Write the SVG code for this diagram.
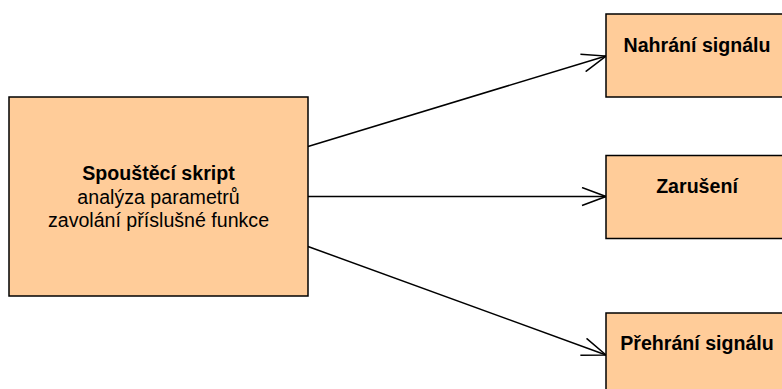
<svg xmlns="http://www.w3.org/2000/svg" width="782" height="389" viewBox="0 0 782 389">
  <style>
    .box { fill: #ffcc99; stroke: #000; stroke-width: 1.5; }
    .t { font-family: "Liberation Sans", Arial, Helvetica, sans-serif; font-size: 19.6px; fill: #000; text-anchor: middle; }
    .b { font-weight: bold; }
    .edge { fill: none; stroke: #000; stroke-width: 1.5; }
  </style>
  <defs>
    <marker id="open-arrow" viewBox="0 0 26 20" refX="25" refY="10" markerWidth="26" markerHeight="20" markerUnits="userSpaceOnUse" orient="auto">
      <path d="M1,1 L25,10 L1,19" fill="none" stroke="#000" stroke-width="1.5"/>
    </marker>
  </defs>

  <g id="connectors">
    <line class="edge" x1="308" y1="146.5" x2="606" y2="56" marker-end="url(#open-arrow)"/>
    <line class="edge" x1="308" y1="196.5" x2="606" y2="196.5" marker-end="url(#open-arrow)"/>
    <line class="edge" x1="308" y1="246.5" x2="606" y2="355" marker-end="url(#open-arrow)"/>
  </g>

  <g id="spousteci-skript">
    <rect class="box" x="9" y="97" width="299" height="199"/>
    <text class="t b" x="158.5" y="180">Spouštěcí skript</text>
    <text class="t" x="158.5" y="203.5">analýza parametrů</text>
    <text class="t" x="158.5" y="226.5">zavolání příslušné funkce</text>
  </g>

  <g id="nahrani-signalu">
    <rect class="box" x="606" y="14" width="182" height="83"/>
    <text class="t b" x="697" y="52">Nahrání signálu</text>
  </g>

  <g id="zaruseni">
    <rect class="box" x="606" y="155.5" width="182" height="83"/>
    <text class="t b" x="697" y="193">Zarušení</text>
  </g>

  <g id="prehrani-signalu">
    <rect class="box" x="606" y="313" width="182" height="83"/>
    <text class="t b" x="697" y="350">Přehrání signálu</text>
  </g>
</svg>
